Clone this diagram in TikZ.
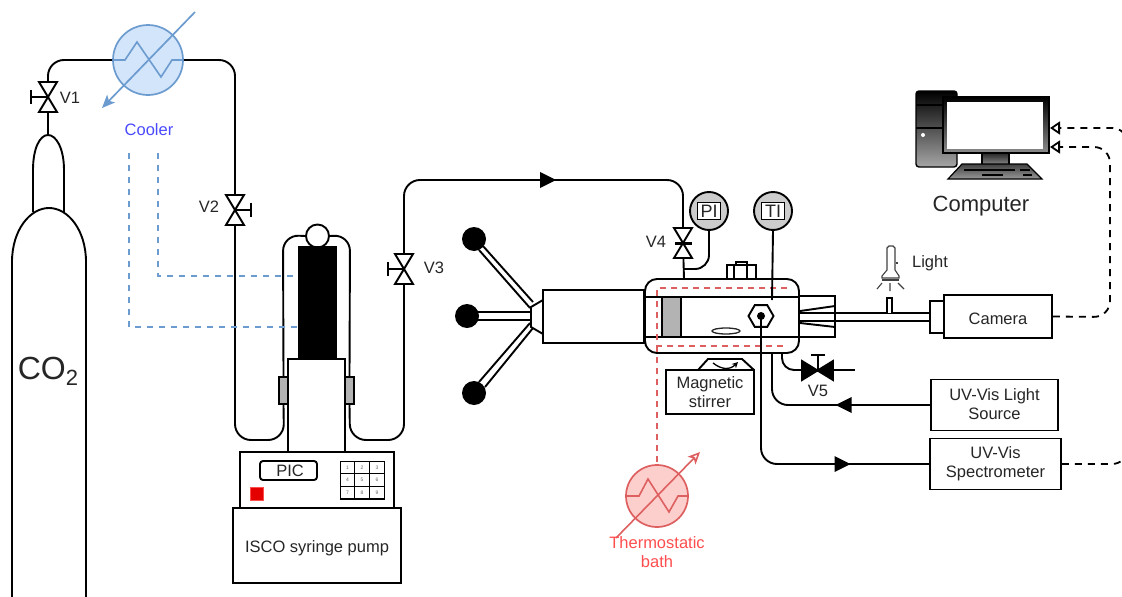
\documentclass[tikz,border=0pt]{standalone}
\usepackage{fontspec}
\setmainfont{Liberation Sans}
\usetikzlibrary{arrows.meta,shapes.geometric}
\definecolor{coolline}{HTML}{6C9BCF}
\definecolor{coolfill}{HTML}{D3E5FA}
\definecolor{coolword}{HTML}{4A4AFF}
\definecolor{bathline}{HTML}{DE5F5F}
\definecolor{bathfill}{HTML}{FCCFCD}
\definecolor{bathword}{HTML}{FF4D4D}
\definecolor{inktext}{HTML}{262626}
\definecolor{clampgray}{HTML}{B3B3B3}
\definecolor{gaugegray}{HTML}{CCCCCC}
\newcommand{\flowtip}[3]{\fill[shift={(#1,#2)},rotate=#3] (8,0) -- (-8,-8) -- (-8,8) -- cycle;}
\tikzset{
  pipe/.style={line width=1.9pt, rounded corners=16pt},
  wire/.style={line width=1.9pt},
  box/.style={draw, line width=1.9pt, fill=white, inner sep=0pt, align=center, text=inktext,
    font=\fontsize{16.5}{19}\selectfont},
  word/.style={inner sep=0pt, align=center, text=inktext, font=\fontsize{16.5}{19}\selectfont},
  gauge/.style={circle, draw, line width=1.9pt, fill=gaugegray, minimum size=38pt, inner sep=0pt},
  gaugetag/.style={box, minimum width=23pt, minimum height=17pt, font=\fontsize{18}{20}\selectfont},
  clamp/.style={draw, line width=1.9pt, fill=clampgray, minimum width=9pt, minimum height=27pt, inner sep=0pt},
  keycell/.style={draw, line width=1.3pt, fill=white, minimum width=14.7pt, minimum height=12.7pt, inner sep=0pt,
    text=black!60, font=\fontsize{5}{5}\selectfont},
  knob/.style={circle, fill=black, minimum size=24pt, inner sep=0pt},
  exchanger/.style={circle, draw, line width=1.7pt, inner sep=0pt},
  valve/.pic={\draw[line width=1.9pt, fill=white] (-9,-15) -- (9,-15) -- (-9,15) -- (9,15) -- cycle;},
  signal/.style={line width=1.8pt, dash pattern=on 7pt off 6pt, rounded corners=16pt,
    -{Triangle[open, length=10pt, width=13pt, fill=white]}},
  lamp/.style={line width=1.1pt, black!75}
}
\begin{document}
\begin{tikzpicture}[x=1pt,y=-1pt]
\useasboundingbox (0,0) rectangle (1122,597);

\draw[line width=1.9pt] (33,212) -- (33,170) .. controls (33,148) and (40,135) .. (48,135) .. controls (56,135) and (64,148) .. (64,170) -- (64,212);
\draw[line width=1.9pt, fill=white] (12,600) -- (12,262) .. controls (12,230) and (30,208) .. (49,208) .. controls (68,208) and (86,230) .. (86,262) -- (86,600);
\node[word, font=\fontsize{32}{36}\selectfont] (co2) at (48,371) {CO\raisebox{-6pt}{\fontsize{22}{24}\selectfont 2}};

\coordinate (necktop) at (48,135);
\coordinate (v1) at (48,97);
\coordinate (v2) at (235,210);
\coordinate (v3) at (404,269);
\coordinate (v4) at (683,243);
\coordinate (v5) at (818,370);
\coordinate (vesseltop) at (684,279);
\coordinate (coolstart) at (195,12);
\coordinate (coolend) at (102,108);
\coordinate (bathstart) at (616,538);
\coordinate (bathend) at (700,452);

\node[exchanger, draw=coolline, fill=coolfill, minimum size=70pt] (cooler) at (148,60) {};
\node[word, text=coolword] (coolerlabel) at (149,130) {Cooler};
\draw[line width=1.6pt, coolline] (cooler.west) -- (125,60) -- (137,42) -- (161,77) -- (172,60) -- (cooler.east);
\draw[line width=1.7pt, coolline, -{Stealth[length=13pt, width=11pt, inset=3pt]}] (coolstart) -- (coolend);

\node[clamp] (clampL) at (283.5,390.5) {};
\node[clamp] (clampR) at (349.5,390.5) {};
\node[circle, draw, line width=1.9pt, fill=white, minimum size=23pt, inner sep=0pt] (head) at (317.5,236) {};
\node[draw, fill=black, minimum width=38pt, minimum height=113pt, inner sep=0pt] (barrel) at (317,302.5) {};
\node[box, minimum width=57pt, minimum height=93pt] (column) at (316.5,405.5) {};

\draw[pipe] (necktop) -- (v1) -- (48,60) -- (cooler.west);
\draw[pipe] (cooler.east) -- (235,60) -- (v2);
\draw[pipe] (v2) -- (235,440) -- (284,440) -- (clampL.south);
\draw[pipe] (clampL.north) -- (283,235) -- (head.west);
\draw[pipe] (head.east) -- (350,235) -- (clampR.north);
\draw[pipe] (clampR.south) -- (350,440) -- (404,440) -- (v3);
\draw[pipe] (v3) -- (404,180) -- (683,180) -- (v4);
\draw[wire] (v4) -- (vesseltop);
\flowtip{548}{180}{0}

\pic at (v1) {valve};
\pic at (v2) {valve};
\pic at (v3) {valve};
\pic at (v4) {valve};
\draw[wire] (v1) -- (31,97) (31,90) -- (31,104);
\draw[wire] (v2) -- (251,210) (251,203) -- (251,217);
\draw[wire] (v3) -- (388,269) (388,262) -- (388,276);
\draw[line width=3pt] (675,243) -- (692,243);
\node[word] (v1label) at (70,98) {V1};
\node[word] (v2label) at (209,207) {V2};
\node[word] (v3label) at (434,268) {V3};
\node[word] (v4label) at (656,242) {V4};
\node[word] (v5label) at (818,391) {V5};

\draw[line width=1.7pt, coolline, dash pattern=on 6pt off 6pt] (158,153) -- (158,276) -- (barrel.west |- 0,276);
\draw[line width=1.7pt, coolline, dash pattern=on 6pt off 6pt] (129,153) -- (129,327) -- (barrel.west |- 0,327);

\node[box, minimum width=154pt, minimum height=56pt] (panel) at (317,480) {};
\node[box, minimum width=168pt, minimum height=75pt, text height=17pt] (pump) at (317,545.5) {ISCO syringe pump};
\node[box, rounded corners=3pt, minimum width=57pt, minimum height=19pt] (pic) at (288.5,470.5) {\hspace*{3pt}PIC};
\node[draw=red!70, line width=0.8pt, fill=red!90!black, minimum size=13.5pt, inner sep=0pt] (alarm) at (257,494) {};
\foreach \d/\cx/\cy in {1/347.5/467.5, 2/362/467.5, 3/377/467.5, 4/347.5/480, 5/362/480, 6/377/480, 7/347.5/492.5, 8/362/492.5, 9/377/492.5}
  \node[keycell] (key\d) at (\cx,\cy) {\d};

\node[knob] (knobA) at (474,239) {};
\node[knob] (knobB) at (467,316) {};
\node[knob] (knobC) at (474,393) {};
\draw[wire] (483,246) -- (533,302) (479,250) -- (530,308);
\draw[wire] (478,312) -- (531,312) (478,320) -- (531,320);
\draw[wire] (485,387) -- (533,328) (479,382) -- (530,323);
\draw[wire, fill=white] (543,300) -- (531,307) -- (531,327) -- (543,334);
\node[box, minimum width=101pt, minimum height=53pt] (shaft) at (593.5,316.5) {};

\node[box, minimum width=36pt, minimum height=41pt] (window) at (817,316.5) {};
\draw[wire] (799,313) -- (930,313) (799,321) -- (930,321);
\draw[wire] (800,311) -- (835,306) (800,323) -- (835,327);
\draw[wire, fill=white] (887,313) -- (887,298) -- (892,298) -- (892,313);
\node[box, minimum width=154pt, minimum height=74pt, rounded corners=12pt, fill=none] (vessel) at (722,316) {};
\draw[wire] (vessel.west |- 0,297) -- (vessel.east |- 0,297);
\draw[wire] (vessel.west |- 0,337) -- (vessel.east |- 0,337);
\node[draw, line width=1.9pt, fill=clampgray, minimum width=19pt, minimum height=40pt, inner sep=0pt] (piston) at (671.5,317) {};
\draw[line width=1.3pt, inktext] (726,331) ellipse [x radius=14pt, y radius=3pt];
\draw[line width=1.3pt, fill=white] (736,265) -- (736,262) -- (747,262) -- (747,265);
\node[box, minimum width=29pt, minimum height=14pt] (fitting) at (741.5,272) {};
\draw[line width=1.3pt] (734,265) -- (734,279) (747,265) -- (747,279);

\draw[line width=1.7pt, bathline, dash pattern=on 6pt off 5pt] (787,288) -- (657,288) -- (657,346) -- (787,346);
\node[exchanger, draw=bathline, fill=bathfill, minimum size=62pt] (bath) at (657,496) {};
\draw[line width=1.7pt, bathline, dash pattern=on 6pt off 5pt] (657,346) -- (bath.north);
\draw[line width=1.6pt, bathline] (bath.west) -- (639,496) -- (648,479) -- (669,512) -- (678,496) -- (bath.east);
\draw[line width=1.6pt, bathline, -{Stealth[open, length=12pt, width=11pt, inset=3pt]}] (bathstart) -- (bathend);
\node[word, text=bathword] (bathlabel) at (657,552.5) {Thermostatic\\bath};

\node[gauge] (pi) at (709,211) {};
\node[gaugetag] (pitag) at (pi) {PI};
\node[gauge] (ti) at (773,211) {};
\node[gaugetag] (titag) at (ti) {TI};
\draw[line width=1.9pt, rounded corners=14pt] (pi.south) -- (709,269) -- (684,269);
\draw[wire] (ti.south) -- (772,300);

\node[regular polygon, regular polygon sides=6, draw, line width=1.9pt, fill=white, minimum size=25pt, inner sep=0pt] (hex) at (761,316) {};
\fill (hex.center) circle (4pt);

\node[box, minimum width=131pt, minimum height=51pt] (spec) at (995.5,464) {UV-Vis\\Spectrometer};
\node[box, minimum width=127pt, minimum height=51pt] (source) at (994.5,405) {\raisebox{1pt}{UV-Vis Light}\\\raisebox{1pt}{Source}};
\draw[pipe] (hex.center) -- (761,464) -- (spec.west);
\flowtip{842.5}{464}{0}
\draw[pipe] (source.west) -- (772,405) -- (772,353);
\flowtip{843.5}{405}{180}

\draw[line width=1.9pt, rounded corners=12pt] (782,353) -- (782,370) -- (v5);
\draw[wire] (v5) -- (855,370);
\draw[wire] (v5) -- (818,355) (811,355) -- (825,355);
\draw[line width=1.9pt, fill=black] (802,361) -- (802,380) -- (833,361) -- (833,380) -- cycle;

\node[box, minimum width=88pt, minimum height=44pt] (stirrer) at (710,392) {Magnetic\\stirrer};
\draw[wire] (698,370) -- (708,359) -- (742,359) -- (754,370);
\draw[line width=1.3pt, -{Stealth[length=6pt, width=6pt]}] (713,363) .. controls (722,370) and (730,370) .. (738,362);

\node[box, minimum width=14pt, minimum height=32pt] (flange) at (937,317) {};
\node[box, minimum width=108pt, minimum height=43pt, text height=17pt] (camera) at (998,316.5) {Camera};

\draw[lamp] (887,270) -- (887,248) -- (889,246) -- (893,246) -- (895,248) -- (895,270) -- (899,276) -- (899,278) -- (882,278) -- (882,276) -- cycle;
\draw[lamp] (882,280) -- (899,280) (897,262) -- (897,264);
\draw[lamp] (890,283) -- (890,291) (882,283) -- (877,289) (898,283) -- (904,289);
\node[word] (lightlabel) at (930,263) {Light};

\draw[line width=1.4pt, rounded corners=3pt, top color=black, bottom color=black!35] (916,91) rectangle (957,167);
\draw[line width=1.2pt] (916,105) -- (957,105) (916,128) -- (957,128);
\fill[white] (923,135) circle (2pt);
\draw[line width=1.2pt, top color=black!85, bottom color=black!45] (982,153) rectangle (1009,165);
\draw[line width=1.2pt, top color=black!75, bottom color=black!40] (962,164) -- (1027,164) -- (1042,179) -- (948,179) -- cycle;
\draw[line width=1.5pt] (964,170) -- (1015,170) (1020,170) -- (1030,170) (982,175) -- (1003,175) (1023,175) -- (1032,175);
\draw[line width=1.4pt, top color=black, bottom color=black!45] (943,97) rectangle (1049,153);
\node[fill=white, minimum width=96pt, minimum height=47pt, inner sep=0pt] (monitor) at (995,125.5) {};
\node[word, font=\fontsize{22}{24}\selectfont] (computerlabel) at (981,206) {Computer};
\coordinate (monitorA) at (1050,128);
\coordinate (monitorB) at (1050,147);

\draw[signal] (spec.east) -- (1128,464) -- (1128,128) -- (monitorA);
\draw[signal] (camera.east) -- (1110,317) -- (1110,147) -- (monitorB);
\end{tikzpicture}
\end{document}
